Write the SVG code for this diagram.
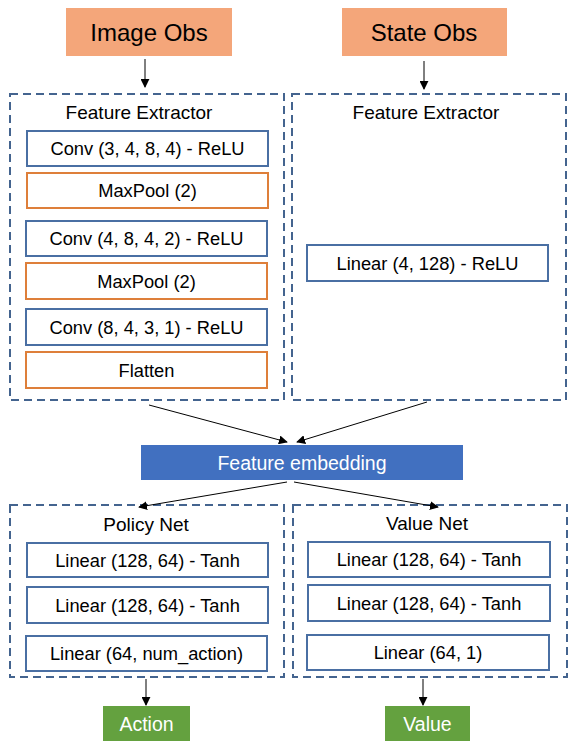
<svg xmlns="http://www.w3.org/2000/svg" width="577" height="752" viewBox="0 0 577 752">
<defs>
<marker id="ah" viewBox="0 0 10 10" refX="9" refY="5" markerWidth="9" markerHeight="9" markerUnits="userSpaceOnUse" orient="auto">
<path d="M0,0 L10,5 L0,10 z" fill="#000"/>
</marker>
</defs>
<style>
text{font-family:"Liberation Sans",Arial,sans-serif;text-anchor:middle;fill:#000}
.obs{fill:#F4A67A}
.obs-t{font-size:24px}
.dash{fill:none;stroke:#44648F;stroke-width:2;stroke-dasharray:8 5}
.blue{fill:#fff;stroke:#4A6FA3;stroke-width:2}
.orange{fill:#fff;stroke:#DE7F3A;stroke-width:2}
.lbl{font-size:18.3px}
.head{font-size:19px}
.emb{fill:#4170C0}
.green{fill:#64A13F}
.wt{fill:#fff;font-size:19.5px}
.conn{stroke:#000;stroke-width:1;fill:none;marker-end:url(#ah)}
</style>
<rect width="577" height="752" fill="#fff"/>

<g id="image-obs"><rect class="obs" x="66" y="8" width="166" height="48"/><text class="obs-t" x="149" y="41">Image Obs</text></g>
<g id="state-obs"><rect class="obs" x="342" y="8" width="165" height="48"/><text class="obs-t" x="424" y="41">State Obs</text></g>

<g id="image-extractor">
<rect class="dash" x="10" y="94" width="274" height="306"/>
<text class="head" x="139" y="119">Feature Extractor</text>
<g id="conv1"><rect class="blue" x="27" y="131" width="241" height="35"/><text class="lbl" x="147.5" y="155">Conv (3, 4, 8, 4) - ReLU</text></g>
<g id="pool1"><rect class="orange" x="27" y="173" width="241" height="35"/><text class="lbl" x="147.5" y="197">MaxPool (2)</text></g>
<g id="conv2"><rect class="blue" x="26" y="221" width="241" height="35"/><text class="lbl" x="146.5" y="245">Conv (4, 8, 4, 2) - ReLU</text></g>
<g id="pool2"><rect class="orange" x="26" y="263" width="241" height="36"/><text class="lbl" x="146.5" y="288">MaxPool (2)</text></g>
<g id="conv3"><rect class="blue" x="26" y="309" width="241" height="36"/><text class="lbl" x="146.5" y="334">Conv (8, 4, 3, 1) - ReLU</text></g>
<g id="flatten"><rect class="orange" x="26" y="352" width="241" height="36"/><text class="lbl" x="146.5" y="377">Flatten</text></g>
</g>

<g id="state-extractor">
<rect class="dash" x="292" y="94" width="274" height="306"/>
<text class="head" x="426" y="119">Feature Extractor</text>
<g id="linear-state"><rect class="blue" x="307" y="245" width="241" height="36"/><text class="lbl" x="427.5" y="270">Linear (4, 128) - ReLU</text></g>
</g>

<g id="feature-embedding"><rect class="emb" x="141" y="445" width="322" height="35"/><text class="wt" x="302" y="469.5">Feature embedding</text></g>

<g id="policy-net">
<rect class="dash" x="10" y="505" width="274" height="172"/>
<text class="head" x="146" y="531">Policy Net</text>
<g id="p-lin1"><rect class="blue" x="27" y="543" width="241" height="34"/><text class="lbl" x="147.5" y="566.5">Linear (128, 64) - Tanh</text></g>
<g id="p-lin2"><rect class="blue" x="27" y="587" width="241" height="36"/><text class="lbl" x="147.5" y="611.5">Linear (128, 64) - Tanh</text></g>
<g id="p-lin3"><rect class="blue" x="26" y="636" width="241" height="35"/><text class="lbl" x="146.5" y="660">Linear (64, num_action)</text></g>
</g>

<g id="value-net">
<rect class="dash" x="293" y="505" width="274" height="172"/>
<text class="head" x="427" y="530">Value Net</text>
<g id="v-lin1"><rect class="blue" x="308" y="542" width="242" height="35"/><text class="lbl" x="429" y="566">Linear (128, 64) - Tanh</text></g>
<g id="v-lin2"><rect class="blue" x="308" y="585" width="242" height="36"/><text class="lbl" x="429" y="609.5">Linear (128, 64) - Tanh</text></g>
<g id="v-lin3"><rect class="blue" x="307" y="635" width="242" height="35"/><text class="lbl" x="428" y="659">Linear (64, 1)</text></g>
</g>

<g id="action"><rect class="green" x="103" y="706" width="87" height="35"/><text class="wt" x="146.5" y="730.5">Action</text></g>
<g id="value"><rect class="green" x="385" y="706" width="85" height="35"/><text class="wt" x="427.5" y="730.5">Value</text></g>

<g id="connectors">
<line class="conn" x1="145" y1="59" x2="145" y2="87"/>
<line class="conn" x1="424" y1="61" x2="424" y2="89"/>
<line class="conn" x1="149" y1="405" x2="287" y2="442"/>
<line class="conn" x1="427" y1="402" x2="297" y2="442"/>
<line class="conn" x1="287" y1="482" x2="139" y2="507"/>
<line class="conn" x1="294" y1="482" x2="438" y2="507"/>
<line class="conn" x1="146" y1="679" x2="146" y2="705"/>
<line class="conn" x1="423" y1="679" x2="423" y2="705"/>
</g>
</svg>
